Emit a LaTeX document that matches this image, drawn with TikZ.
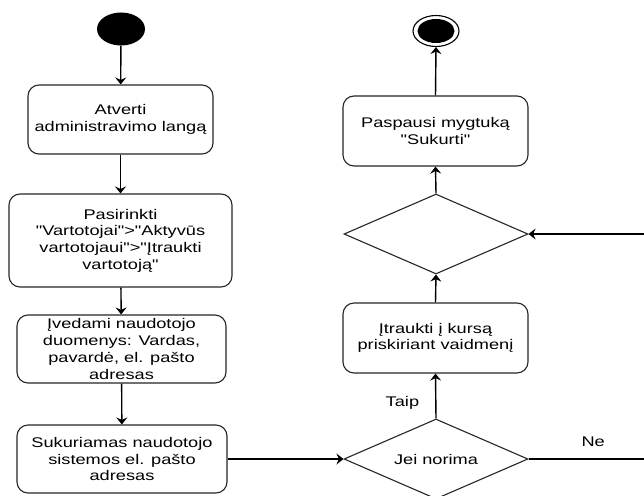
\documentclass[tikz,border=0pt]{standalone}
\usepackage{fontspec}
\setmainfont{Liberation Sans}[FakeStretch=1.3, Ligatures=TeXOff]
\usetikzlibrary{shapes.geometric,arrows.meta}

\tikzset{
  every node/.style={font=\fontsize{14}{16.7}\selectfont, text=black},
  actbox/.style={draw=black!85, line width=1.1pt, rounded corners=11pt,
    fill=white, align=center, inner sep=0pt, minimum width=185pt, minimum height=69pt},
  choice/.style={draw=black!85, line width=1.1pt, diamond, aspect=2.3, fill=white,
    inner sep=0pt, minimum width=184pt, minimum height=80pt},
  flow/.style={line width=1.4pt, black,
    -{Stealth[length=7pt, width=11pt, inset=2.5pt]}},
  lbl/.style={inner sep=0pt}
}

\begin{document}
\begin{tikzpicture}[x=1pt, y=-1pt]
  \useasboundingbox (0,0) rectangle (644,495);
  \fill[white] (0,0) rectangle (644,495);
  \clip (0,0) rectangle (644,495);

  % initial and final states
  \node[ellipse, fill=black, inner sep=0pt, minimum width=48pt, minimum height=33pt] (start) at (121,29) {};
  \node[ellipse, draw=black, line width=1.1pt, fill=white, inner sep=0pt,
        minimum width=46pt, minimum height=31pt] (end) at (436,31) {};
  \node[ellipse, fill=black, inner sep=0pt, minimum width=37pt, minimum height=24pt] (endin) at (end.center) {};

  % left column
  \node[actbox] (open) at (120.5,119.5) {Atverti\\administravimo langą};
  \node[actbox, minimum width=223pt, minimum height=93pt] (pick) at (120.5,240.5)
    {Pasirinkti\\"Vartotojai">"Aktyvūs\\vartotojaui">"Įtraukti\\vartotoją"};
  \node[actbox, minimum width=209pt, minimum height=68pt] (enter) at (121.5,349)
    {Įvedami naudotojo\\duomenys: Vardas,\\pavardė, el. pašto\\adresas};
  \node[actbox, minimum width=210pt, minimum height=68pt] (create) at (122,459)
    {Sukuriamas naudotojo\\sistemos el. pašto\\adresas};

  % right column
  \node[choice] (want) at (436,459) {Jei norima};
  \node[actbox, minimum height=70pt] (enrol) at (435.5,338) {Įtraukti į kursą\\priskiriant vaidmenį};
  \node[choice] (merge) at (436,234) {};
  \node[actbox, minimum height=70pt] (submit) at (435.5,131) {Paspausi mygtuką\\"Sukurti"};

  \coordinate (loop) at (690,459);

  % connectors
  \draw[flow] (start) -- (open);
  \draw[flow] (open) -- (pick);
  \draw[flow] (pick) -- (enter);
  \draw[flow] (enter) -- (create);
  \draw[flow] (create.east) -- (want.west);
  \draw[flow] (want.north) -- node[lbl, pos=0.35, left=16pt] {Taip} (enrol.south);
  \draw[flow] (enrol.north) -- (merge.south);
  \draw[flow] (merge.north) -- (submit.south);
  \draw[flow] (submit.north) -- (end.south);
  \draw[flow] (want.east) -- node[lbl, pos=0.4, above=12pt] {Ne} (loop) |- (merge.east);
\end{tikzpicture}
\end{document}
